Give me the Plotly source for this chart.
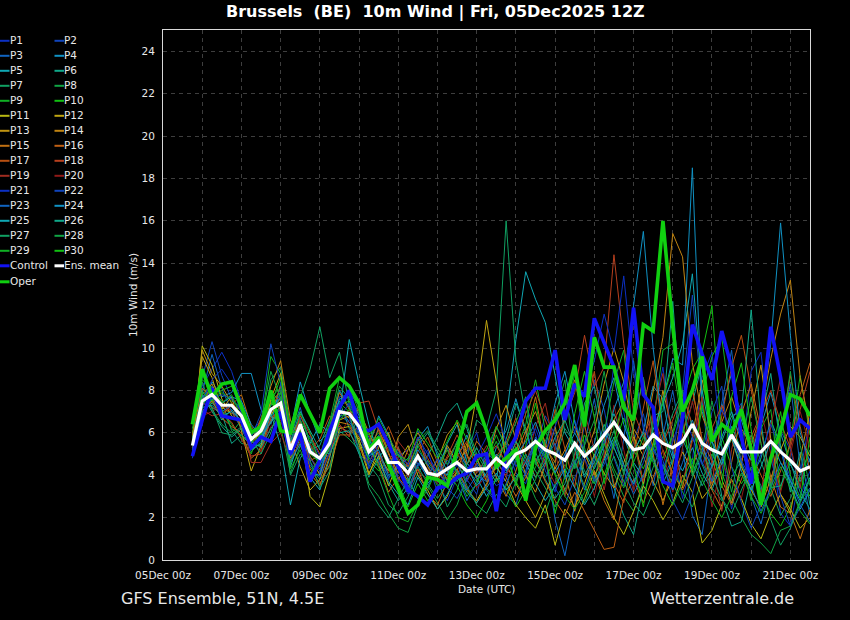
import plotly.graph_objects as go
import pandas as pd

# ---------------- data ----------------
TIMES = pd.date_range("2025-12-05 18:00", periods=64, freq="6h")

TICK_DATES = ["2025-12-05", "2025-12-07", "2025-12-09", "2025-12-11", "2025-12-13",
              "2025-12-15", "2025-12-17", "2025-12-19", "2025-12-21"]
TICK_LABELS = ["05Dec 00z", "07Dec 00z", "09Dec 00z", "11Dec 00z", "13Dec 00z",
               "15Dec 00z", "17Dec 00z", "19Dec 00z", "21Dec 00z"]
Y_TICKS = [0, 2, 4, 6, 8, 10, 12, 14, 16, 18, 20, 22, 24]

OPER = [6.4, 9.0, 7.7, 8.3, 8.4, 7.2, 6.0, 6.3, 8.0, 6.1, 6.0, 7.8, 6.9, 6.0, 8.1, 8.6,
        8.2, 7.4, 5.2, 5.8, 4.5, 3.3, 2.2, 2.6, 3.9, 3.8, 3.5, 5.2, 7.0, 7.4, 6.1, 4.4,
        4.8, 5.2, 2.8, 5.3, 6.1, 6.6, 7.4, 9.2, 6.3, 10.5, 9.1, 9.1, 7.2, 6.6, 11.1, 10.8,
        16.0, 11.0, 7.0, 8.0, 9.6, 5.6, 6.4, 6.0, 7.1, 5.2, 2.6, 4.8, 6.1, 7.8, 7.6, 6.8]
CONTROL = [4.9, 6.6, 8.1, 6.8, 6.7, 6.6, 5.3, 5.8, 5.6, 7.0, 5.0, 6.0, 3.7, 4.7, 6.1, 7.2,
           8.0, 6.2, 6.1, 6.4, 5.5, 4.4, 3.3, 3.0, 2.6, 3.4, 3.5, 3.9, 4.1, 4.9, 5.0, 2.3,
           5.0, 5.8, 7.5, 8.1, 8.1, 9.9, 6.6, 8.3, 7.7, 11.4, 10.2, 9.1, 7.5, 11.9, 7.8, 7.2,
           3.7, 3.5, 6.7, 11.1, 9.7, 8.5, 10.8, 9.1, 5.8, 3.6, 6.7, 11.0, 8.6, 5.8, 6.6, 6.2]
ENS_MEAN = [5.4, 7.5, 7.8, 7.3, 7.3, 6.8, 5.7, 6.1, 7.1, 7.4, 5.2, 6.4, 5.1, 4.8, 5.5, 7.0,
            6.9, 6.3, 5.1, 5.6, 4.6, 4.6, 4.1, 4.9, 4.1, 4.0, 4.3, 4.6, 4.2, 4.3, 4.3, 4.8,
            4.4, 5.0, 5.2, 5.6, 5.2, 5.0, 4.7, 5.5, 4.9, 5.3, 5.9, 6.5, 5.8, 5.2, 5.3, 5.9,
            5.5, 5.3, 5.6, 6.4, 5.5, 5.2, 5.0, 5.9, 5.1, 5.1, 5.1, 5.6, 5.1, 4.7, 4.2, 4.4]

P1 = [5.0,8.2,9.0,9.8,8.9,7.4,6.0,6.6, 7.8,7.0,4.6,6.2,5.8,4.9,5.2,6.8, 6.5,5.9,4.8,6.3,5.5,3.9,3.1,4.4, 5.2,3.6,2.8,3.9,5.1,6.0,4.2,3.5,
      3.8,6.2,7.4,5.9,4.5,3.2,4.8,6.6, 5.1,3.8,5.6,9.2,7.0,4.4,3.6,6.8, 9.1,5.4,2.9,4.7,8.6,9.8,5.2,2.4, 4.6,8.9,9.8,5.5,2.2,1.6,4.1,6.7]
P2 = [5.2,8.6,10.3,8.7,7.6,7.1,5.9,6.3, 7.4,8.0,5.5,6.7,4.6,4.1,5.9,7.7, 7.8,6.9,4.4,5.1,3.8,4.9,5.2,6.1, 4.6,3.2,4.4,5.6,3.8,3.1,4.9,6.3,
      5.4,4.1,3.6,5.2,6.8,5.9,3.9,4.4, 6.3,8.5,7.1,4.8,3.5,5.6,6.9,4.7, 3.9,4.8,8.0,12.5,7.5,3.6,4.2,6.6, 7.4,4.9,3.3,4.6,6.1,5.2,3.4,2.9]
P3 = [5.6,7.9,9.7,8.1,7.0,6.2,5.2,5.8, 6.9,7.9,5.8,7.2,5.4,4.6,5.0,6.3, 6.0,6.6,5.8,4.7,3.9,4.2,3.5,4.0, 3.4,4.5,5.3,4.0,2.8,3.6,5.1,4.6,
      3.1,2.6,4.2,5.8,4.9,1.9,0.2,2.6, 5.5,7.6,5.0,2.9,5.7,9.4,6.2,3.5, 5.9,8.0,5.3,2.1,1.2,4.6,7.4,9.9, 5.8,3.0,1.7,3.6,6.0,8.3,4.4,2.1]
P4 = [5.1,7.2,8.4,7.7,7.9,8.8,8.8,7.1, 6.4,8.3,6.1,8.4,6.9,5.6,6.1,8.0, 7.2,6.0,5.3,6.8,5.9,4.4,4.8,5.7, 6.3,4.9,3.7,4.8,5.9,4.6,3.9,5.3,
      6.1,7.6,6.0,4.7,5.3,7.4,8.9,6.5, 4.9,5.5,7.3,8.6,6.4,5.0,6.1,8.2, 7.6,9.5,9.2,18.5,7.0,5.5,7.2,8.8, 6.6,5.1,6.3,7.9,6.0,4.5,3.7,4.8]
P5 = [4.9,6.9,7.6,6.6,7.1,6.5,5.3,5.9, 7.3,7.6,4.4,5.8,3.9,3.3,4.8,6.9, 10.4,8.3,6.4,4.9,4.2,5.3,3.8,2.9, 3.6,4.2,5.5,6.4,4.6,3.9,3.0,3.8,
      6.6,10.4,13.6,12.3,11.2,8.7,6.0,5.2, 3.9,4.6,5.7,6.9,5.8,4.6,3.9,5.1, 7.6,5.0,4.2,5.3,4.1,3.3,4.6,6.3, 5.2,3.9,4.8,6.6,5.4,3.5,2.4,3.3]
P6 = [5.5,7.0,7.4,6.9,5.5,5.9,5.4,5.4, 6.6,6.9,5.0,6.5,5.2,5.4,6.6,7.5, 6.2,5.6,4.8,4.4,3.6,2.8,3.4,4.5, 4.9,5.8,6.9,7.4,6.2,4.8,3.9,4.4,
      5.7,7.4,6.2,4.6,3.8,2.9,3.6,5.0, 7.4,8.2,5.9,3.4,2.1,1.2,3.5,6.8, 7.0,12.2,6.0,7.4,9.3,5.7,3.0,1.6, 1.8,3.9,6.6,8.8,5.3,3.2,5.1,2.6]
P7 = [5.3,7.7,8.0,7.5,6.1,5.5,5.4,5.4, 8.5,9.1,6.3,7.6,9.0,11.0,8.6,9.8, 7.3,5.4,4.5,3.9,2.6,2.2,3.0,4.1, 4.7,3.9,2.5,3.3,4.8,6.6,6.2,8.0,
      16.0,9.4,6.8,5.1,3.9,4.7,6.2,5.5, 4.2,3.6,4.9,6.1,4.8,3.9,3.1,4.4, 5.6,6.9,8.0,6.2,4.5,3.4,2.8,3.9, 4.7,5.9,4.6,3.3,2.1,2.9,4.0,5.2]
P8 = [5.8,8.4,7.1,6.4,6.0,6.6,5.1,5.6, 7.0,6.3,4.1,5.4,4.4,3.8,4.4,6.1, 5.7,5.2,3.6,3.0,2.2,1.5,1.3,2.6, 3.5,2.7,1.9,2.6,3.9,4.4,3.4,2.8,
      3.5,4.8,4.0,2.9,2.2,3.6,4.5,3.8, 2.7,3.9,5.2,4.1,3.0,2.3,3.7,4.9, 6.1,4.4,3.2,2.5,3.8,5.0,4.1,2.9, 2.0,1.2,0.8,0.3,1.4,1.6,2.8,3.4]
P9 = [5.0,7.3,7.9,7.0,6.4,5.8,5.0,6.4, 9.6,8.8,6.2,7.0,6.0,4.5,5.2,7.4, 7.0,6.6,5.5,6.0,5.2,4.7,4.4,5.4, 4.4,3.5,3.9,5.0,4.3,3.7,4.6,5.6,
      4.3,5.1,6.4,8.5,6.1,4.8,6.6,8.8, 5.3,3.6,6.0,8.4,9.9,5.7,3.5,6.4, 9.9,10.2,6.5,4.0,7.8,9.6,10.5,7.0, 4.6,2.8,6.2,7.1,3.3,5.6,8.7,5.9]
P10 = [6.0,8.9,7.4,7.9,7.5,7.2,6.0,5.9, 7.5,7.9,5.4,6.9,5.5,4.4,5.9,7.3, 7.5,6.2,4.7,4.2,4.8,3.6,2.5,3.6, 2.8,3.3,4.1,3.5,2.6,2.0,2.8,3.9,
       3.4,2.5,3.3,4.4,5.2,4.1,3.1,4.6, 5.9,4.9,4.0,5.4,6.7,5.2,4.3,5.5, 4.8,5.9,7.4,9.0,9.8,12.0,5.8,4.4, 3.6,4.3,3.1,2.2,1.6,2.5,3.9,3.0]
P11 = [5.3,10.1,9.2,7.6,6.8,6.5,5.5,6.0, 6.8,7.7,5.1,6.3,3.0,2.5,4.1,6.2, 6.3,5.7,4.1,4.9,3.5,4.6,5.4,4.0, 3.3,2.4,3.0,4.2,3.3,2.8,3.6,4.4,
       3.7,2.6,2.0,1.5,2.6,0.7,2.4,1.8, 2.9,4.2,3.1,2.0,1.2,2.3,3.5,2.8, 1.9,2.7,4.0,3.2,0.8,1.4,2.6,3.8, 2.9,1.7,1.0,2.2,3.1,2.4,1.5,2.0]
P12 = [5.7,9.6,8.6,7.1,7.7,6.1,4.2,5.4, 7.6,8.8,5.7,4.4,3.3,3.8,5.1,6.6, 6.8,5.5,4.0,5.3,6.0,4.5,3.7,5.0, 4.1,3.9,5.4,4.6,5.2,7.8,11.3,8.4,
       4.5,3.6,2.8,2.0,3.1,4.4,3.3,2.5, 3.6,5.0,4.1,3.4,4.6,5.8,4.9,3.7, 2.8,3.9,5.1,4.2,2.9,3.5,4.8,5.7, 4.4,3.3,2.5,3.9,5.2,6.3,5.8,4.9]
P13 = [5.6,9.9,8.8,8.2,7.4,6.9,5.6,6.6, 7.4,7.1,4.8,5.9,4.9,4.0,5.4,7.0, 6.7,7.1,6.0,5.0,4.2,5.8,6.4,4.9, 4.0,4.7,5.9,6.5,5.0,3.9,4.5,6.2,
       7.3,5.6,4.0,3.2,4.5,6.3,4.1,2.3, 4.8,6.1,8.3,10.0,8.4,6.0,3.6,5.5, 8.0,6.0,3.4,5.8,8.5,6.3,3.8,2.7, 4.5,7.0,9.2,5.7,3.1,2.2,4.8,7.0]
P14 = [5.4,7.8,8.3,7.2,6.9,7.3,6.1,6.2, 8.2,9.4,6.6,5.7,4.1,3.5,4.9,6.5, 6.4,5.8,5.0,6.2,5.0,4.1,5.2,6.0, 5.3,4.3,3.5,4.2,5.5,4.8,3.7,4.5,
       5.6,4.9,6.1,7.0,5.5,4.3,5.2,6.3, 5.0,4.0,4.8,6.6,7.5,6.2,5.4,7.9, 10.5,15.4,14.3,9.3,6.8,5.6,6.5,7.7, 6.2,5.4,6.9,9.5,11.6,13.2,8.6,6.2]
P15 = [5.9,8.1,7.7,6.8,7.3,7.8,6.3,5.7, 6.5,7.3,5.5,6.0,4.7,4.9,6.3,7.9, 7.1,6.4,5.6,6.5,5.1,3.8,4.6,5.8, 4.4,3.7,4.8,5.5,4.5,5.6,5.0,3.9,
       3.0,4.2,5.8,7.7,5.3,4.6,6.9,8.5, 6.4,4.1,2.8,1.9,4.1,6.3,8.6,5.0, 2.6,4.5,7.0,8.1,5.6,3.3,2.4,4.6, 6.9,8.3,6.1,3.9,2.5,2.2,1.0,2.4]
P16 = [5.2,7.0,7.5,6.7,6.3,6.0,4.8,5.2, 6.9,8.2,5.9,6.6,4.3,3.6,4.5,5.9, 5.9,6.3,5.4,4.5,3.2,3.9,3.3,4.3, 3.1,2.6,3.7,4.3,3.4,2.7,3.5,4.7,
       3.9,3.0,3.9,4.8,3.7,2.8,2.1,3.2, 2.3,1.4,0.5,0.6,2.9,3.8,2.7,3.9, 5.2,4.1,3.3,4.4,5.6,4.7,3.5,2.6, 3.8,5.0,4.0,3.0,4.2,5.5,7.8,9.3]
P17 = [5.6,7.6,8.0,7.4,7.0,6.3,5.5,6.7, 7.9,7.5,5.0,6.1,5.2,5.7,6.8,6.3, 6.0,5.3,4.6,5.4,6.3,5.2,4.0,5.1, 5.8,4.6,3.8,4.9,5.6,4.3,3.8,4.9,
       5.5,6.7,5.0,3.9,4.8,7.1,5.2,3.4, 6.7,8.9,5.8,3.6,2.7,4.9,7.2,9.4, 6.0,3.8,5.9,8.0,5.7,3.6,6.8,9.1, 10.6,8.0,5.5,3.6,6.0,8.7,6.3,4.2]
P18 = [5.3,7.4,7.2,6.9,6.5,5.7,4.9,5.0, 6.7,7.1,5.3,6.8,5.9,5.0,5.6,6.4, 5.8,7.4,7.5,6.1,4.7,5.3,4.4,5.5, 4.8,4.0,4.9,5.9,4.9,4.1,4.8,5.4,
       4.6,5.5,6.9,8.0,6.6,5.4,6.7,7.9, 10.6,8.2,9.1,14.4,10.2,7.0,5.8,6.9, 5.5,6.6,7.8,6.4,5.0,6.2,7.3,5.9, 4.7,5.8,6.9,8.0,6.5,5.3,7.1,8.9]
P19 = [5.5,7.1,6.8,6.9,7.3,7.1,4.6,4.6, 5.5,6.0,4.7,5.6,4.8,4.3,5.0,6.9, 7.0,6.5,5.9,5.0,4.1,5.6,5.0,4.2, 3.8,4.4,5.2,4.6,3.7,4.6,5.4,4.6,
       4.0,5.2,4.4,6.3,7.4,5.1,3.0,4.9, 7.0,5.2,3.3,5.5,7.5,5.6,3.7,6.8, 8.8,5.4,3.6,5.6,7.7,4.5,2.3,5.2, 7.3,5.0,3.1,6.3,8.6,5.4,3.4,6.5]
P20 = [5.0,6.8,7.0,7.3,7.0,6.6,5.6,5.1, 6.3,6.6,4.9,5.8,5.5,4.7,5.3,6.0, 6.6,7.0,5.2,4.6,5.3,4.8,3.9,4.7, 4.3,3.6,4.1,5.1,4.1,3.4,4.0,4.9,
       4.3,3.8,4.7,5.5,4.5,3.6,4.4,5.6, 4.8,3.0,5.0,7.3,5.2,3.2,5.1,7.0, 5.1,3.2,5.3,7.5,5.4,2.5,4.6,3.7, 2.9,4.9,7.1,5.0,3.2,5.0,7.0,5.3]
P21 = [4.8,7.5,8.5,9.0,8.3,6.9,5.9,6.2, 7.2,7.0,4.9,6.0,4.5,3.9,5.1,6.7, 7.4,6.1,4.3,5.5,4.4,5.1,4.5,5.8, 5.0,4.1,3.6,4.5,3.7,4.9,5.8,6.9,
       5.6,4.4,5.3,6.2,5.0,6.3,7.6,6.0, 7.8,9.4,11.6,9.8,13.4,8.9,6.3,5.2, 4.3,5.6,7.0,5.8,4.5,5.7,7.1,6.0, 4.7,3.8,5.0,6.4,5.1,3.9,3.0,4.2]
P22 = [5.4,7.3,7.6,7.8,7.6,7.0,5.8,6.9, 10.2,8.3,5.6,6.4,4.8,4.2,5.5,7.1, 6.8,5.0,4.5,5.9,4.8,3.8,3.2,4.6, 3.9,4.8,3.4,2.9,3.8,4.5,3.3,2.7,
       3.6,4.7,4.0,5.7,4.2,3.4,2.6,3.9, 4.8,3.7,4.5,5.6,4.4,3.5,4.6,5.9, 4.7,2.8,1.9,3.1,5.0,7.0,8.2,4.4, 2.7,1.5,2.6,4.8,3.0,1.6,2.5,3.4]
P23 = [5.2,7.7,8.2,7.0,7.3,6.4,5.3,5.7, 7.0,7.7,5.1,6.3,5.3,4.5,5.3,7.2, 6.5,6.0,5.0,5.8,4.6,5.0,4.3,5.2, 4.5,4.0,4.7,4.2,3.3,4.0,3.7,4.6,
       4.1,5.3,4.6,5.6,4.8,5.5,3.8,4.7, 3.3,4.8,6.1,5.3,4.2,3.1,4.0,5.3, 4.4,3.3,4.6,5.8,4.6,3.7,4.8,5.9, 4.6,3.5,2.3,3.4,4.6,3.8,2.6,1.8]
P24 = [5.0,7.0,7.7,7.4,7.7,7.5,6.4,5.8, 6.5,7.0,4.6,5.5,4.1,4.0,5.7,7.6, 7.7,6.8,4.9,5.2,4.0,4.4,3.6,4.8, 3.8,4.3,4.0,5.3,4.4,3.5,4.1,5.0,
       4.2,4.9,5.6,6.5,5.2,4.1,5.0,6.0, 5.1,4.3,5.4,7.1,8.4,12.0,15.5,10.0, 6.2,4.8,5.5,6.6,5.3,4.4,5.8,7.0, 5.6,4.7,6.8,10.2,15.9,10.6,6.0,4.6]
P25 = [4.9,7.2,7.3,6.8,7.0,6.6,5.2,5.5, 6.9,5.4,2.6,4.8,5.5,6.4,6.0,7.1, 7.9,7.3,5.2,4.6,3.7,3.1,2.6,3.9, 3.1,2.4,3.1,4.0,3.2,2.7,3.4,4.1,
       3.3,3.9,4.6,3.6,2.8,3.5,4.3,3.4, 2.6,3.4,4.7,5.8,4.5,3.6,4.9,6.2, 7.4,8.6,10.2,13.5,8.0,5.6,4.5,5.8, 4.2,3.3,4.4,5.6,4.6,3.7,2.8,3.9]
P26 = [5.7,7.8,7.0,6.3,5.8,6.2,5.6,5.3, 6.2,6.8,5.6,7.0,6.1,5.2,5.0,6.0, 6.1,5.0,3.9,4.8,5.5,4.3,3.6,5.4, 6.0,5.1,4.2,3.7,4.5,5.3,4.3,3.7,
       4.4,5.6,4.8,3.9,4.6,5.8,6.6,5.3, 4.0,4.9,6.4,5.3,4.2,5.1,6.0,4.8, 3.6,4.7,5.7,4.6,3.5,4.4,5.6,6.8, 7.0,11.8,6.5,3.4,3.5,4.6,3.2,2.4]
P27 = [5.5,8.0,7.2,6.0,5.9,6.3,5.7,5.0, 6.0,7.5,4.0,5.0,4.7,3.4,4.2,6.8, 6.9,5.1,3.4,2.6,2.0,2.9,3.8,4.4, 3.6,2.9,3.6,4.7,3.5,2.6,2.2,3.1,
       2.5,3.7,5.0,4.2,3.4,2.5,3.3,4.6, 3.5,2.6,3.8,4.9,3.7,2.7,2.1,3.2, 4.5,3.6,2.7,3.9,5.1,4.0,2.9,2.2, 3.3,4.4,3.5,1.9,0.7,1.5,2.7,3.8]
P28 = [5.1,6.7,7.9,7.1,6.2,5.9,5.5,6.5, 8.9,7.6,4.5,6.6,5.7,4.7,6.3,8.2, 7.6,6.4,5.5,6.7,5.8,5.0,4.1,5.6, 6.1,5.3,4.5,5.6,6.4,5.0,4.2,4.8,
       5.4,6.5,7.7,4.5,5.6,6.8,8.5,4.3, 5.4,6.6,8.9,6.2,4.0,6.4,8.6,6.0, 3.9,6.0,8.0,4.0,5.3,7.5,5.4,3.2, 5.5,7.7,5.5,3.4,5.7,8.9,5.4,3.5]
P29 = [6.2,8.5,8.1,7.4,7.8,6.7,5.2,6.0, 7.7,8.1,4.3,5.2,4.0,4.9,6.5,8.6, 8.2,7.0,5.6,4.3,3.1,2.0,1.8,2.7, 3.3,4.4,5.2,4.1,3.0,3.6,4.7,5.9,
       4.8,3.7,2.9,3.8,5.0,4.0,3.0,2.4, 3.2,4.4,5.5,4.3,3.4,4.6,5.8,4.6, 3.5,2.6,3.7,4.8,3.8,2.8,2.0,3.0, 4.1,3.0,2.2,3.2,4.4,3.4,2.3,1.7]
P30 = [5.4,7.9,7.5,8.0,8.2,7.4,6.2,6.0, 7.3,8.6,6.0,6.1,5.0,4.6,5.3,6.6, 7.1,6.7,5.9,6.4,5.6,4.9,4.7,6.2, 5.5,4.8,5.6,6.6,5.7,4.6,5.2,6.3,
       5.3,3.5,5.4,7.4,5.1,2.2,4.0,6.9, 8.9,6.7,3.6,5.6,7.8,4.5,2.5,5.4, 7.5,9.3,6.3,4.2,7.3,5.2,3.4,7.7, 9.3,6.2,3.0,4.9,7.0,4.0,2.9,5.8]

MEMBERS = [P1, P2, P3, P4, P5, P6, P7, P8, P9, P10, P11, P12, P13, P14, P15,
           P16, P17, P18, P19, P20, P21, P22, P23, P24, P25, P26, P27, P28, P29, P30]
MEMBER_NAMES = ["P%d" % (k + 1) for k in range(len(MEMBERS))]

# ---------------- style ----------------
PALETTE = ["#0c30c4", "#1044bc", "#1064c0", "#1092c4", "#10a8b4", "#10a88a", "#10a062",
           "#10a444", "#10b024", "#12c012", "#b8b812", "#c0a612", "#c09412", "#c08412",
           "#c07012", "#c06014", "#b85012", "#b8401e", "#a02c20", "#901a18"]
CONTROL_COLOR = "#1212f4"
OPER_COLOR = "#10d010"
MEAN_COLOR = "#ffffff"
GRID = "#3e3e3e"
TXT = "#e8e8e8"
FONT = "DejaVu Sans"

W, H = 850, 620
L, R, T, B = 163, 810, 30, 560


def px2x(px):
    return (px - L) / (R - L)


def py2y(py):
    return (B - py) / (B - T)


fig = go.Figure()
for k, vals in enumerate(MEMBERS):
    fig.add_trace(go.Scatter(x=TIMES, y=vals, mode="lines", name=MEMBER_NAMES[k],
                             line=dict(color=PALETTE[k % 20], width=1), showlegend=False))
fig.add_trace(go.Scatter(x=TIMES, y=CONTROL, mode="lines", name="Control",
                         line=dict(color=CONTROL_COLOR, width=3.6), showlegend=False))
fig.add_trace(go.Scatter(x=TIMES, y=OPER, mode="lines", name="Oper",
                         line=dict(color=OPER_COLOR, width=3.6), showlegend=False))
fig.add_trace(go.Scatter(x=TIMES, y=ENS_MEAN, mode="lines", name="Ens. mean",
                         line=dict(color=MEAN_COLOR, width=3.2), showlegend=False))

# ---------------- manual two-column legend ----------------
shapes = []
annotations = []
entries = []
for k, nm in enumerate(MEMBER_NAMES):
    entries.append((nm, PALETTE[k % 20], 2, k % 2, 40 + 15 * (k // 2)))
entries.append(("Control", CONTROL_COLOR, 3, 0, 265))
entries.append(("Ens. mean", MEAN_COLOR, 3, 1, 265))
entries.append(("Oper", OPER_COLOR, 3, 0, 281))
for nm, col, lw, c, yy in entries:
    x0 = 0 if c == 0 else 54.5
    shapes.append(dict(type="line", xref="paper", yref="paper",
                       x0=px2x(x0), x1=px2x(x0 + 9.5), y0=py2y(yy + 0.8), y1=py2y(yy + 0.8),
                       line=dict(color=col, width=lw)))
    annotations.append(dict(xref="paper", yref="paper", x=px2x(x0 + 7.5), y=py2y(yy),
                            text=nm, showarrow=False, xanchor="left", yanchor="middle",
                            font=dict(size=10.5, color=TXT, family=FONT)))

annotations += [
    dict(xref="paper", yref="paper", x=px2x(435.5), y=py2y(12),
         text="<b>Brussels\u00a0 (BE)\u00a0 10m Wind | Fri, 05Dec2025 12Z</b>",
         showarrow=False, xanchor="center", yanchor="middle",
         font=dict(size=16, color="#ffffff", family=FONT)),
    dict(xref="paper", yref="paper", x=px2x(133), y=py2y(295), text="10m Wind (m/s)",
         textangle=-90, showarrow=False, xanchor="center", yanchor="middle",
         font=dict(size=10.5, color=TXT, family=FONT)),
    dict(xref="paper", yref="paper", x=px2x(486.5), y=py2y(589), text="Date (UTC)",
         showarrow=False, xanchor="center", yanchor="middle",
         font=dict(size=10.5, color=TXT, family=FONT)),
    dict(xref="paper", yref="paper", x=px2x(118.5), y=py2y(598), text="GFS Ensemble, 51N, 4.5E",
         showarrow=False, xanchor="left", yanchor="middle",
         font=dict(size=16, color=TXT, family=FONT)),
    dict(xref="paper", yref="paper", x=px2x(796), y=py2y(598), text="Wetterzentrale.de",
         showarrow=False, xanchor="right", yanchor="middle",
         font=dict(size=16, color=TXT, family=FONT)),
]

fig.update_layout(
    width=W, height=H,
    margin=dict(l=L, r=W - R, t=T, b=H - B, pad=0),
    paper_bgcolor="#000000", plot_bgcolor="#000000",
    font=dict(family=FONT, color=TXT, size=10.5),
    showlegend=False,
    shapes=shapes, annotations=annotations,
    xaxis=dict(type="date", range=["2025-12-05 00:00", "2025-12-21 12:00"],
               tickvals=TICK_DATES, ticktext=TICK_LABELS,
               showgrid=True, gridcolor=GRID, gridwidth=1, griddash="4px,4px",
               minor=dict(dtick=86400000, tick0="2025-12-05", showgrid=True,
                          gridcolor=GRID, gridwidth=1, griddash="4px,4px"),
               showline=True, mirror=True, linecolor="#d8d8d8", linewidth=1,
               ticks="outside", ticklen=5, tickcolor="rgba(0,0,0,0)",
               tickfont=dict(size=10.5, color=TXT, family=FONT), zeroline=False),
    yaxis=dict(range=[0, 25], tickvals=Y_TICKS,
               showgrid=True, gridcolor=GRID, gridwidth=1, griddash="4px,4px",
               showline=True, mirror=True, linecolor="#d8d8d8", linewidth=1,
               ticks="outside", ticklen=5, tickcolor="rgba(0,0,0,0)",
               tickfont=dict(size=10.5, color=TXT, family=FONT), zeroline=False),
)

fig.write_html("out.html",
               config={"displayModeBar": False},
               post_script="document.body.style.margin='0px';"
                           "document.body.style.background='#000000';")
